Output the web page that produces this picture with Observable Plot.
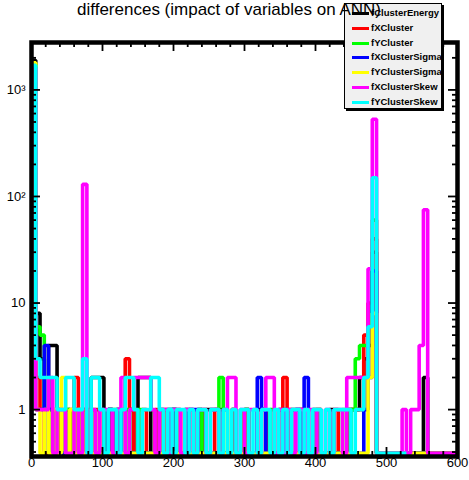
<!DOCTYPE html>
<html><head><meta charset="utf-8">
<script src="https://cdn.jsdelivr.net/npm/d3@7"></script>
<script src="https://cdn.jsdelivr.net/npm/@observablehq/plot@0.6"></script>
<style>
body{margin:0;background:#fff;}
#wrap{position:relative;width:469px;height:480px;font-family:"Liberation Sans",Arial,Helvetica,sans-serif;overflow:hidden}
#title{position:absolute;left:0;width:458px;top:1px;line-height:17px;text-align:center;font-size:17px;color:#000;z-index:3;white-space:nowrap}
#legend{position:absolute;left:344px;top:3px;width:98px;height:106px;box-sizing:border-box;background:#f0f0f0;border:1px solid #000;box-shadow:2px 2px 0 #000;z-index:2;overflow:hidden;padding-top:2px}
.row{position:relative;height:14.8px;line-height:14.8px;font-size:9.5px;font-weight:bold;white-space:nowrap}
.sw{position:absolute;left:7px;top:6px;width:17px;height:3px}
.lb{position:absolute;left:26px;top:0}
#chart{position:absolute;left:0;top:0}
</style></head>
<body>
<div id="wrap">
  <div id="chart"></div>
  <div id="legend"></div>
  <div id="title"></div>
</div>
<script>
// ---- data ----
const titleText = "differences (impact of variables on ANN)";
const binWidth = 6; // histogram bin width (x units), bins start at 0
const seriesNames = ["fClusterEnergy","fXCluster","fYCluster","fXClusterSigma","fYClusterSigma","fXClusterSkew","fYClusterSkew"];
const seriesColors = ["#000000","#ff0000","#00ff00","#0000ff","#ffff00","#ff00ff","#00ffff"];

const energyCounts = [1900,8,3,1,4,4,1,0,1,0, 1,0,1,0,2,2,2,0,1,0, 1,0,0,1,0,2,2,2,0,0, 1,0,0,1,0,0,1,0,0,1,
  0,1,1,1,1,0,0,1,0,0, 1,0,0,1,1,0,0,0,1,0, 0,1,1,1,0,0,1,0,0,0, 1,0,0,0,1,1,1,2,3,4, 30,0,0,0,0,0,0,0,0,0, 0,0,2,0,0,0,0,0,0,0];
const xClusterCounts = [1500,2,1,0,1,0,1,0,0,1, 2,0,1,1,0,1,0,0,1,0, 0,1,3,1,0,0,1,0,0,1, 0,1,0,0,1,0,0,1,0,0,
  1,0,0,1,0,0,0,1,0,0, 1,0,0,0,1,0,0,0,0,2, 1,0,0,1,0,0,0,1,0,0, 0,1,0,0,1,1,1,1,5,10, 40,0,0,0,0,0,0,0,0,0, 0,0,0,0,0,0,0,0,0,0];
const yClusterCounts = [1750,6,5,1,0,1,0,0,1,0, 0,1,0,0,1,0,0,0,1,1, 0,0,1,0,0,1,0,0,0,0, 0,0,1,1,0,0,0,0,0,1,
  0,0,0,0,2,1,0,0,0,0, 1,0,0,0,0,0,1,0,0,0, 0,0,0,0,0,0,0,1,0,0, 0,0,0,1,0,1,3,4,4,6, 60,0,0,0,0,0,0,0,0,0, 0,0,0,0,0,0,0,0,0,0];
const xSigmaCounts = [1650,1,1,4,1,0,0,0,0,0, 0,0,0,0,0,0,0,0,1,0, 1,0,0,0,0,0,0,0,0,0, 0,0,1,1,0,0,0,1,1,0,
  0,0,0,0,0,0,0,0,0,0, 0,0,0,2,1,0,0,0,0,1, 0,0,1,0,2,0,0,0,0,0, 0,0,0,0,0,0,0,0,1,2, 20,0,0,0,0,0,0,0,0,0, 0,0,0,0,0,0,0,0,0,0];
const ySigmaCounts = [1800,1,0,1,0,1,0,2,0,1, 0,1,0,0,0,0,0,0,0,0, 0,0,0,0,0,0,0,0,0,0, 0,0,0,0,0,0,0,0,0,0,
  0,0,0,0,0,0,0,0,0,0, 0,0,0,0,0,0,0,0,0,0, 0,0,0,0,0,0,0,0,0,0, 0,0,0,0,0,0,0,0,0,2, 8,0,0,0,0,0,0,0,0,0, 0,0,0,0,0,0,0,0,0,0];
const xSkewCounts = [1600,1,1,1,2,0,1,1,0,0, 1,0,130,0,1,0,1,1,1,0, 1,2,0,1,2,2,2,2,1,0, 1,1,0,1,1,0,1,1,0,1,
  1,0,1,1,0,1,2,2,0,1, 0,1,1,0,1,2,2,0,1,0, 1,0,1,1,0,1,0,1,0,1, 0,1,1,0,2,2,2,2,2,21, 530,0,0,0,0,0,0,1,0,1, 1,4,75,0,0,0,0,0,0,0];
const ySkewCounts = [1700,3,2,2,2,2,1,1,2,2, 1,1,3,0,2,2,1,0,1,1, 0,1,2,2,1,0,1,1,2,2, 1,0,1,0,1,1,0,1,0,1,
  1,0,1,1,0,1,0,1,0,1, 1,0,1,0,1,1,0,1,0,1, 0,1,1,0,1,0,1,1,0,1, 0,1,1,1,1,0,1,1,2,6, 150,0,0,0,0,0,0,0];

const xTickLabels = [0,100,200,300,400,500,600];
const yTickLabels = [1,10,100,1000];
const yTickText = ["1","10","10\u00b2","10\u00b3"];

// ---- build ----
const allCounts = [energyCounts,xClusterCounts,yClusterCounts,xSigmaCounts,ySigmaCounts,xSkewCounts,ySkewCounts];
const yMin = 0.363, yMax = 2786;
const zeroLevel = 0.39; // empty bins drawn at the bottom of the log frame

function stepRows(counts){
  const rows = [{x:0, y:zeroLevel}];
  counts.forEach((c,i)=>rows.push({x:i*binWidth, y:Math.max(c, zeroLevel)}));
  rows.push({x:counts.length*binWidth, y:zeroLevel});
  return rows;
}

const xMinor = d3.range(0,601,20).filter(d=>d%100!==0);
const yMinor = [];
[0.1,1,10,100,1000].forEach(dec=>{for(let k=2;k<=9;k++){const v=k*dec; if(v>yMin && v<yMax) yMinor.push(v);}});

const innerH = 480-42-24, innerW = 469-31-12;
const majLen = 9, minLen = 5;

const marks = [];
allCounts.forEach((counts,i)=>{
  marks.push(Plot.line(stepRows(counts), {x:"x", y:"y", curve:"step-after", stroke:seriesColors[i], strokeWidth:3.6, strokeLinejoin:"miter", strokeLinecap:"butt", clip:true}));
});
// ticks (inward, all four sides)
marks.push(Plot.tickX(xTickLabels, {x:d=>d, insetTop:innerH-majLen, stroke:"#000", strokeWidth:1.8}));
marks.push(Plot.tickX(xMinor, {x:d=>d, insetTop:innerH-minLen, stroke:"#000", strokeWidth:1.8}));
marks.push(Plot.tickX(xTickLabels, {x:d=>d, insetBottom:innerH-majLen, stroke:"#000", strokeWidth:1.8}));
marks.push(Plot.tickX(xMinor, {x:d=>d, insetBottom:innerH-minLen, stroke:"#000", strokeWidth:1.8}));
marks.push(Plot.tickY(yTickLabels, {y:d=>d, insetRight:innerW-majLen, stroke:"#000", strokeWidth:1.8}));
marks.push(Plot.tickY(yMinor, {y:d=>d, insetRight:innerW-minLen, stroke:"#000", strokeWidth:1.8}));
marks.push(Plot.tickY(yTickLabels, {y:d=>d, insetLeft:innerW-majLen, stroke:"#000", strokeWidth:1.8}));
marks.push(Plot.tickY(yMinor, {y:d=>d, insetLeft:innerW-minLen, stroke:"#000", strokeWidth:1.8}));
marks.push(Plot.frame({stroke:"#000", strokeWidth:4.5}));
marks.push(Plot.text(xTickLabels, {x:d=>d, frameAnchor:"bottom", dy:10, text:d=>String(d), fontSize:13, fill:"#000"}));
marks.push(Plot.text(yTickLabels, {y:d=>d, frameAnchor:"left", dx:-6, textAnchor:"end", text:(d,i)=>yTickText[i], fontSize:13, fill:"#000"}));

const chart = Plot.plot({
  width:469, height:480,
  marginLeft:31, marginRight:12, marginTop:42, marginBottom:24,
  style:{fontFamily:"'Liberation Sans', Arial, sans-serif", background:"#fff", overflow:"visible"},
  x:{domain:[0,600], axis:null},
  y:{type:"log", domain:[yMin,yMax], axis:null},
  marks
});
document.getElementById("chart").appendChild(chart);

document.getElementById("title").textContent = titleText;
const leg = document.getElementById("legend");
seriesNames.forEach((n,i)=>{
  const r = document.createElement("div"); r.className="row";
  const s = document.createElement("div"); s.className="sw"; s.style.background = seriesColors[i];
  const l = document.createElement("div"); l.className="lb"; l.textContent = n;
  r.appendChild(s); r.appendChild(l); leg.appendChild(r);
});
</script>
</body></html>
